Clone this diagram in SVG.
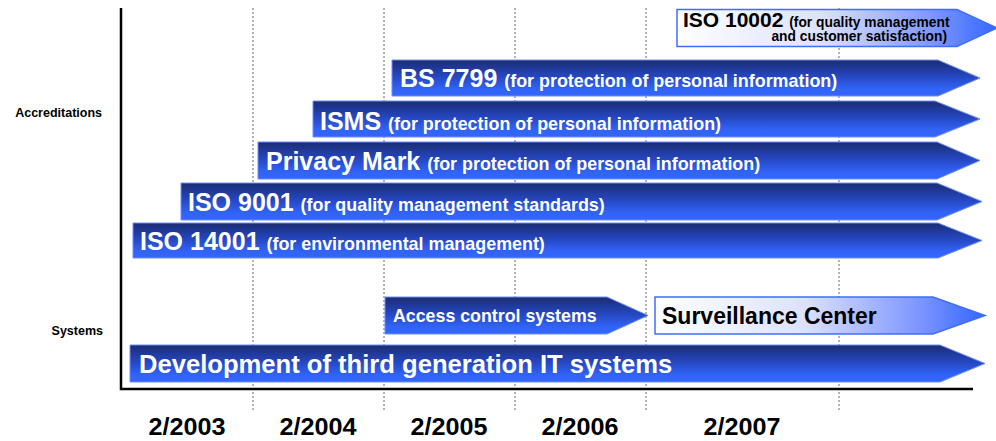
<svg xmlns="http://www.w3.org/2000/svg" width="996" height="441" viewBox="0 0 996 441">
  <defs>
    <!-- dark blue bar: navy top fading to bright blue -->
    <linearGradient id="gDark" x1="0" y1="0" x2="0" y2="1">
      <stop offset="0" stop-color="#1b2c72"/>
      <stop offset="0.45" stop-color="#2546c0"/>
      <stop offset="0.8" stop-color="#3163f6"/>
      <stop offset="1" stop-color="#3366ff"/>
    </linearGradient>
    <!-- light bar: white on the left to blue at the tip -->
    <linearGradient id="gLight" x1="0" y1="0" x2="1" y2="0">
      <stop offset="0" stop-color="#ffffff"/>
      <stop offset="0.45" stop-color="#dde2fb"/>
      <stop offset="0.8" stop-color="#7d96ff"/>
      <stop offset="1" stop-color="#3366ff"/>
    </linearGradient>
    <style>
      text { font-family: "Liberation Sans", Arial, sans-serif; font-weight: bold; }
      .dark { fill: url(#gDark); stroke: #6d8cff; stroke-width: 1; }
      .light { fill: url(#gLight); stroke: #3f6dff; stroke-width: 1.5; }
      .grid { stroke: #666; stroke-width: 1; stroke-dasharray: 2 2; fill: none; }
      .axis { stroke: #000; stroke-width: 2.5; fill: none; }
      .title { fill: #fff; font-size: 25px; }
      .big { font-size: 25.6px; }
      .sub { font-size: 17.9px; }
      .side { font-size: 12.5px; fill: #000; text-anchor: end; }
      .year { font-size: 24px; fill: #000; text-anchor: middle; }
    </style>
  </defs>

  <rect width="996" height="441" fill="#fff"/>

  <!-- year grid -->
  <g id="grid">
    <line class="grid" x1="253" y1="8" x2="253" y2="410"/>
    <line class="grid" x1="384" y1="8" x2="384" y2="410"/>
    <line class="grid" x1="515" y1="8" x2="515" y2="410"/>
    <line class="grid" x1="646" y1="8" x2="646" y2="410"/>
    <line class="grid" x1="839" y1="8" x2="839" y2="410"/>
  </g>

  <!-- axes -->
  <g id="axes">
    <polyline class="axis" points="121,8 121,389 973,389"/>
  </g>

  <!-- row labels -->
  <g id="row-labels">
    <text class="side" x="102" y="117">Accreditations</text>
    <text class="side" x="103" y="335">Systems</text>
  </g>

  <!-- year labels -->
  <g id="years">
    <text class="year" x="187" y="435" textLength="77" lengthAdjust="spacingAndGlyphs">2/2003</text>
    <text class="year" x="318" y="435" textLength="77" lengthAdjust="spacingAndGlyphs">2/2004</text>
    <text class="year" x="449" y="435" textLength="77" lengthAdjust="spacingAndGlyphs">2/2005</text>
    <text class="year" x="580" y="435" textLength="77" lengthAdjust="spacingAndGlyphs">2/2006</text>
    <text class="year" x="742" y="435" textLength="77" lengthAdjust="spacingAndGlyphs">2/2007</text>
  </g>

  <!-- accreditation bars -->
  <g id="iso10002">
    <path class="light" d="M677,9.5 H957 L997,28 L957,46.5 H677 Z"/>
    <text x="683" y="27" font-size="21" fill="#000">ISO 10002 <tspan font-size="13.8">(for quality management</tspan></text>
    <text x="947" y="41" font-size="13.8" fill="#000" text-anchor="end">and customer satisfaction)</text>
  </g>

  <g id="bs7799">
    <path class="dark" d="M392,60 H938 L980,78 L938,96 H392 Z"/>
    <text class="title" x="400" y="87">BS 7799 <tspan class="sub">(for protection of personal information)</tspan></text>
  </g>

  <g id="isms">
    <path class="dark" d="M313,101 H935 L980,119 L935,137 H313 Z"/>
    <text class="title" x="320" y="130">ISMS <tspan class="sub">(for protection of personal information)</tspan></text>
  </g>

  <g id="privacy-mark">
    <path class="dark" d="M258,142 H937 L980,160.5 L937,179 H258 Z"/>
    <text class="title" x="266" y="170">Privacy Mark <tspan class="sub">(for protection of personal information)</tspan></text>
  </g>

  <g id="iso9001">
    <path class="dark" d="M181,183 H937 L982,201.5 L937,220 H181 Z"/>
    <text class="title" x="188" y="211">ISO 9001 <tspan class="sub">(for quality management standards)</tspan></text>
  </g>

  <g id="iso14001">
    <path class="dark" d="M133,223 H938 L982,240.5 L938,258 H133 Z"/>
    <text class="title" x="140" y="250">ISO 14001 <tspan class="sub">(for environmental management)</tspan></text>
  </g>

  <!-- system bars -->
  <g id="access-control">
    <path class="dark" d="M385,297 H607 L648,315.5 L607,334 H385 Z"/>
    <text x="393" y="322" font-size="17.8" fill="#fff">Access control systems</text>
  </g>

  <g id="surveillance-center">
    <path class="light" d="M655,297 H933 L985,315.5 L933,334 H655 Z"/>
    <text x="662" y="324" font-size="23" fill="#000">Surveillance Center</text>
  </g>

  <g id="it-systems">
    <path class="dark" d="M130,345 H940 L985,363.5 L940,382 H130 Z"/>
    <text class="title big" x="139" y="373">Development of third generation IT systems</text>
  </g>
</svg>
